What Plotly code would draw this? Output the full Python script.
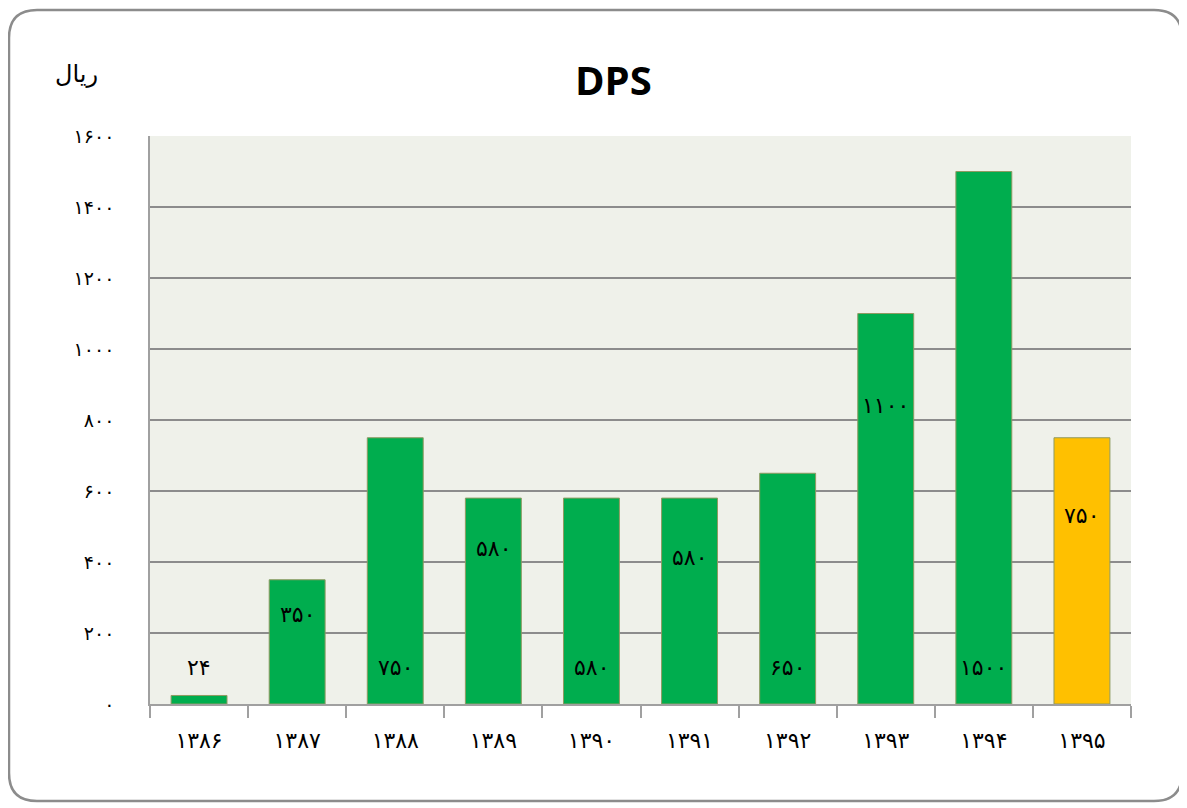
import plotly.graph_objects as go

# ---- data ----
years = ["۱۳۸۶", "۱۳۸۷", "۱۳۸۸", "۱۳۸۹", "۱۳۹۰", "۱۳۹۱", "۱۳۹۲", "۱۳۹۳", "۱۳۹۴", "۱۳۹۵"]
dps = [24, 350, 750, 580, 580, 580, 650, 1100, 1500, 750]
dps_labels = ["۲۴", "۳۵۰", "۷۵۰", "۵۸۰", "۵۸۰", "۵۸۰", "۶۵۰", "۱۱۰۰", "۱۵۰۰", "۷۵۰"]
y_ticks = [0, 200, 400, 600, 800, 1000, 1200, 1400, 1600]
y_tick_text = ["۰", "۲۰۰", "۴۰۰", "۶۰۰", "۸۰۰", "۱۰۰۰", "۱۲۰۰", "۱۴۰۰", "۱۶۰۰"]

# ---- styling (label heights in axis units, as placed in the original) ----
label_heights = [104, 251, 104, 439, 104, 414, 104, 842, 104, 532]
bar_colors = ["#00AD4E"] * 9 + ["#FFC000"]

OFF = 8  # page body margin
W, H = 1187 - OFF, 808 - OFF
L, R, T, B = 150 - OFF, 1131 - OFF, 136 - OFF, 704 - OFF

def px(x):
    return (x - OFF - L) / (R - L)

def py(y):
    return (B - (y - OFF)) / (B - T)

fig = go.Figure()
fig.add_trace(go.Bar(
    x=years, y=dps,
    marker=dict(color=bar_colors, line=dict(color="#8f9a62", width=1)),
    hoverinfo="x+y",
))

annotations = []
for yr, lab, h in zip(years, dps_labels, label_heights):
    annotations.append(dict(x=yr, y=h, xref="x", yref="y", text=lab, showarrow=False,
                            xanchor="center", yanchor="middle",
                            font=dict(family="DejaVu Sans", size=22, color="#000000")))
annotations.append(dict(x=px(613), y=py(80), xref="paper", yref="paper", text="<b>DPS</b>",
                        showarrow=False, xanchor="center", yanchor="middle",
                        font=dict(family="Open Sans", size=40, color="#000000")))
annotations.append(dict(x=px(76), y=py(74), xref="paper", yref="paper", text="ریال",
                        showarrow=False, xanchor="center", yanchor="middle",
                        font=dict(family="DejaVu Sans", size=24, color="#000000")))

# rounded outer frame
x0, y0, x1, y1, r = 9, 10, 1182, 801, 28
path = (f"M {px(x0+r)},{py(y0)} L {px(x1-r)},{py(y0)} Q {px(x1)},{py(y0)} {px(x1)},{py(y0+r)} "
        f"L {px(x1)},{py(y1-r)} Q {px(x1)},{py(y1)} {px(x1-r)},{py(y1)} "
        f"L {px(x0+r)},{py(y1)} Q {px(x0)},{py(y1)} {px(x0)},{py(y1-r)} "
        f"L {px(x0)},{py(y0+r)} Q {px(x0)},{py(y0)} {px(x0+r)},{py(y0)} Z")

fig.update_layout(
    width=W, height=H,
    margin=dict(l=L, r=W - R, t=T, b=H - B),
    paper_bgcolor="#FFFFFF",
    plot_bgcolor="#EFF1EA",
    bargap=0.43,
    showlegend=False,
    annotations=annotations,
    shapes=[dict(type="path", path=path, xref="paper", yref="paper",
                 line=dict(color="#8C8C8C", width=2.5), fillcolor="rgba(0,0,0,0)", layer="below")],
    xaxis=dict(
        type="category", tickson="boundaries", ticks="outside", ticklen=12,
        tickcolor="#A0A0A0", tickwidth=1.5, showgrid=False,
        showline=True, linecolor="#A0A0A0", linewidth=1.5,
        tickfont=dict(family="DejaVu Sans", size=22, color="#000000"),
        ticklabelstandoff=16,
    ),
    yaxis=dict(
        range=[0, 1600], tickvals=y_ticks, ticktext=y_tick_text,
        showgrid=True, gridcolor="#8C8C8C", gridwidth=1.5,
        showline=True, linecolor="#A0A0A0", linewidth=1.5,
        ticks="", zeroline=False,
        tickfont=dict(family="DejaVu Sans", size=19, color="#000000"),
        ticklabelstandoff=30,
    ),
)

fig.write_html("out.html")
